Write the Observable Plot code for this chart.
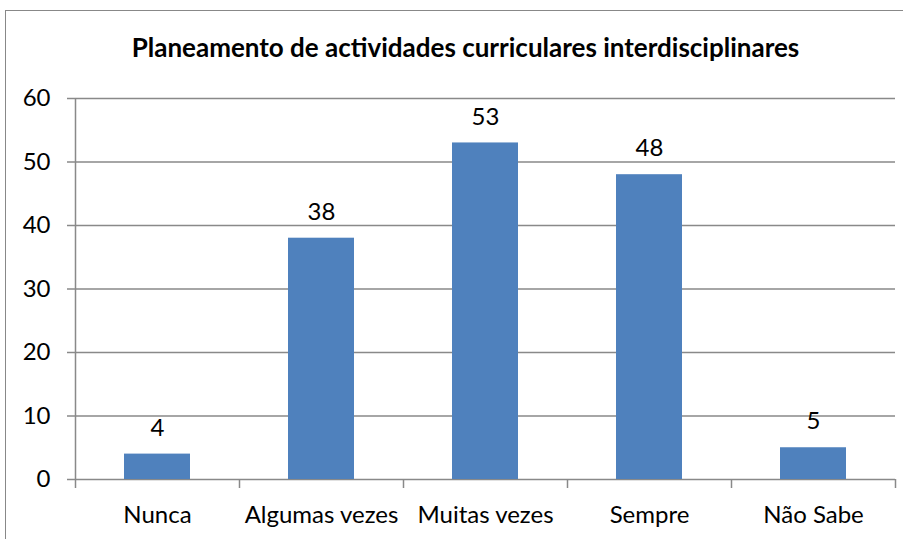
<!DOCTYPE html>
<html>
<head>
<meta charset="utf-8">
<script src="https://cdn.jsdelivr.net/npm/d3@7"></script>
<script src="https://cdn.jsdelivr.net/npm/@observablehq/plot@0.6"></script>
<style>
  html, body { margin: 0; padding: 0; background: #fff; }
  #wrap { position: relative; width: 903px; height: 539px; overflow: hidden; font-family: Lato, sans-serif; }
  #frame { position: absolute; left: 5px; top: 10px; width: 920px; height: 560px; border: 1.5px solid #888; box-sizing: border-box; pointer-events: none; }
  #title { position: absolute; left: 0; width: 931px; top: 34px; text-align: center; font: bold 26px/26px Lato, sans-serif; color: #000; white-space: nowrap; }
  #chart { position: absolute; left: 0; top: 0; }
</style>
</head>
<body>
<div id="wrap">
  <div id="chart"></div>
  <div id="frame"></div>
  <div id="title"></div>
</div>
<script>
const title = "Planeamento de actividades curriculares interdisciplinares";
const categories = ["Nunca", "Algumas vezes", "Muitas vezes", "Sempre", "Não Sabe"];
const values = [4, 38, 53, 48, 5];
const yTicks = [0, 10, 20, 30, 40, 50, 60];

document.getElementById("title").textContent = title;

const data = categories.map((c, i) => ({cat: c, val: values[i]}));

const W = 903, H = 539;
const mL = 75, mR = 8, mT = 98, mB = 60;
const step = (W - mL - mR) / categories.length;
const gray = "#898989";
const font = "Lato, sans-serif";

const chart = Plot.plot({
  width: W,
  height: H,
  marginLeft: mL,
  marginRight: mR,
  marginTop: mT,
  marginBottom: mB,
  style: {fontFamily: font, fontSize: "24px", color: "#000", background: "transparent"},
  x: {domain: categories, paddingInner: 0.6, paddingOuter: 0.3, axis: null},
  y: {domain: [0, 60], axis: null},
  marks: [
    Plot.ruleY(yTicks, {stroke: gray, strokeWidth: 1.5}),
    Plot.ruleX([categories[0]], {y1: 0, y2: 60, stroke: gray, strokeWidth: 1.5, dx: -step / 2}),
    Plot.axisY({ticks: yTicks, tickSize: 8, tickPadding: 17, stroke: gray, strokeWidth: 1.5, fontSize: 24, label: null, tickFormat: d => d}),
    Plot.axisX({tickSize: 9, stroke: gray, strokeWidth: 1.5, dx: -step / 2, tickFormat: () => "", label: null}),
    Plot.axisX({ticks: [categories[categories.length - 1]], tickSize: 9, stroke: gray, strokeWidth: 1.5, dx: step / 2, tickFormat: () => "", label: null}),
    Plot.axisX({tickSize: 0, tickPadding: 26, fontSize: 24, label: null}),
    Plot.barY(data, {x: "cat", y: "val", fill: "#4F81BD"}),
    Plot.text(data, {x: "cat", y: "val", text: d => String(d.val), dy: -26, fontSize: 24, fill: "#000", lineAnchor: "middle"})
  ]
});
document.getElementById("chart").appendChild(chart);
</script>
</body>
</html>
